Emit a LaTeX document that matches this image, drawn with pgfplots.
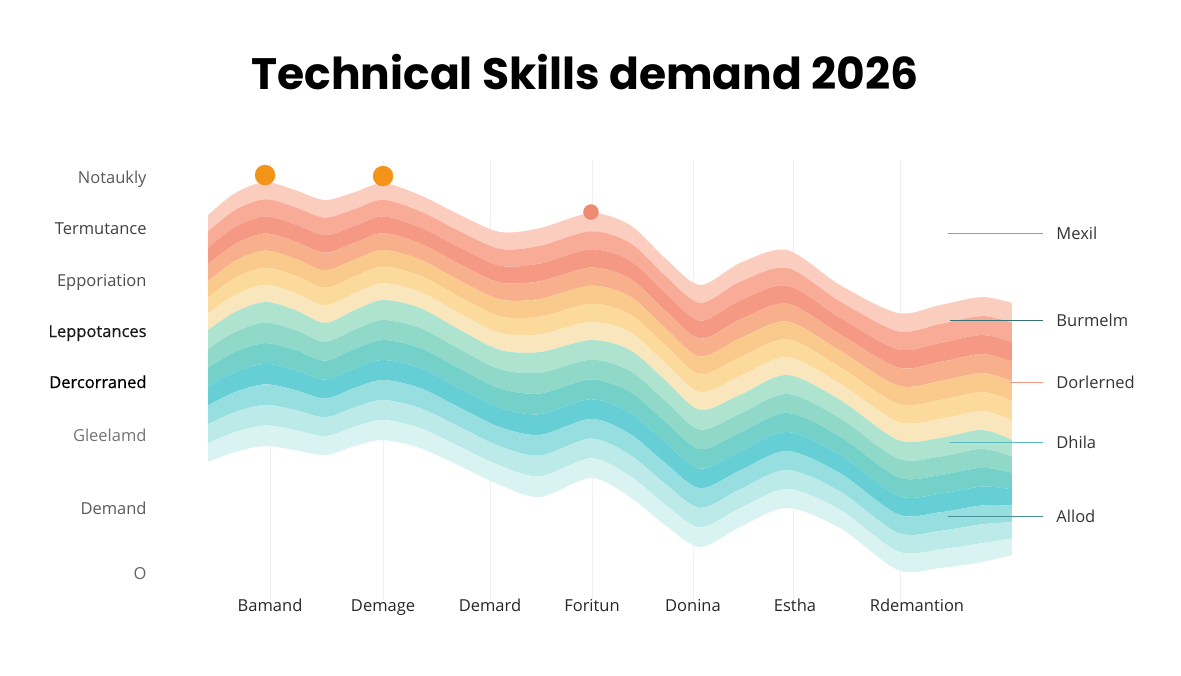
\documentclass[border=0pt]{standalone}
\usepackage{pgfplots}
\pgfplotsset{compat=1.18}
\usepackage{pgfplotstable}
\usepackage{fontspec}
\setmainfont{Open Sans}
\newfontfamily\titlefont{Poppins}
\newfontfamily\medfont[FakeBold=0.5]{Open Sans}

% band colours, bottom to top
\definecolor{c1}{HTML}{D8F3F1}
\definecolor{c2}{HTML}{BBEAE8}
\definecolor{c3}{HTML}{96DEE0}
\definecolor{c4}{HTML}{66CED5}
\definecolor{c5}{HTML}{74D1CA}
\definecolor{c6}{HTML}{90D9C9}
\definecolor{c7}{HTML}{AEE3D0}
\definecolor{w1}{HTML}{F9E6BD}
\definecolor{w2}{HTML}{FBDA9C}
\definecolor{w3}{HTML}{FAC98C}
\definecolor{w4}{HTML}{F8B08C}
\definecolor{w5}{HTML}{F59884}
\definecolor{w6}{HTML}{F8AC97}
\definecolor{w7}{HTML}{FACDBF}
\definecolor{dotorange}{HTML}{F39419}
\definecolor{dotsalmon}{HTML}{EC8A72}

% x, baseline, thickness of each cool band, thickness of each warm band
\pgfplotstableread{
x     base  c      w
208   213   18.86  16.43
235   223   20.00  17.00
265   229   20.57  17.14
295   225   20.00  17.14
325   220   18.86  17.57
355   229   19.43  16.86
383   235   20.00  16.71
420   227   20.00  16.14
460   209   19.43  16.43
500   190   19.29  16.86
540   178   20.71  17.71
591   197   19.71  18.14
630   178   21.00  17.86
665   150   20.71  17.43
700   128   19.57  17.86
740   148   18.86  18.86
787   167   19.00  17.86
840   147   18.29  16.43
898   105   18.57  18.14
940   107   18.57  19.00
982   113   18.86  19.00
1012  120   16.43  19.57
}\stream

\begin{document}
\begin{tikzpicture}
\pgfplotsset{canvas/.style={width=1181pt,height=675pt,scale only axis,
  xmin=0,xmax=1181,ymin=0,ymax=675,clip=false}}

% faint vertical guides behind the stream
\begin{axis}[canvas, hide axis]
  \addplot[black!6, line width=0.8pt] coordinates {(270,75) (270,515)};
  \addplot[black!6, line width=0.8pt] coordinates {(383,75) (383,515)};
  \addplot[black!6, line width=0.8pt] coordinates {(490,75) (490,515)};
  \addplot[black!6, line width=0.8pt] coordinates {(592,75) (592,515)};
  \addplot[black!6, line width=0.8pt] coordinates {(693,75) (693,515)};
  \addplot[black!6, line width=0.8pt] coordinates {(793,75) (793,515)};
  \addplot[black!6, line width=0.8pt] coordinates {(900,75) (900,515)};
\end{axis}

% the stream
\begin{axis}[canvas, hide axis, stack plots=y]
  \addplot[draw=none] table[y=base]{\stream};
  \addplot[fill=c1,draw=none,smooth] table[y=c]{\stream} \closedcycle;
  \addplot[fill=c2,draw=none,smooth] table[y=c]{\stream} \closedcycle;
  \addplot[fill=c3,draw=none,smooth] table[y=c]{\stream} \closedcycle;
  \addplot[fill=c4,draw=none,smooth] table[y=c]{\stream} \closedcycle;
  \addplot[fill=c5,draw=none,smooth] table[y=c]{\stream} \closedcycle;
  \addplot[fill=c6,draw=none,smooth] table[y=c]{\stream} \closedcycle;
  \addplot[fill=c7,draw=none,smooth] table[y=c]{\stream} \closedcycle;
  \addplot[fill=w1,draw=none,smooth] table[y=w]{\stream} \closedcycle;
  \addplot[fill=w2,draw=none,smooth] table[y=w]{\stream} \closedcycle;
  \addplot[fill=w3,draw=none,smooth] table[y=w]{\stream} \closedcycle;
  \addplot[fill=w4,draw=none,smooth] table[y=w]{\stream} \closedcycle;
  \addplot[fill=w5,draw=none,smooth] table[y=w]{\stream} \closedcycle;
  \addplot[fill=w6,draw=none,smooth] table[y=w]{\stream} \closedcycle;
  \addplot[fill=w7,draw=none,smooth] table[y=w]{\stream} \closedcycle;
\end{axis}

% labels, markers and callouts
\begin{axis}[canvas,
  axis line style={draw=none}, major tick length=0pt,
  xtick={270,383,490,592,693,795,917},
  xticklabels={Bamand,Demage,Demard,Foritun,Donina,Estha,Rdemantion},
  xticklabel style={font=\fontsize{16.5}{19}\selectfont, text=black!85, anchor=base, yshift=63pt},
  ytick={102,167,240,293,344,395,447,498},
  yticklabels={{\color{black!60}O},{\color{black!65}Demand},{\color{black!55}Gleelamd},
    {\medfont\color{black}Dercorraned},{\medfont\color{black!90}Leppotances},
    {\color{black!70}Epporiation},{\color{black!75}Termutance},{\color{black!65}Notaukly}},
  yticklabel style={font=\fontsize{16.5}{19}\selectfont, anchor=base east, xshift=150pt, yshift=-6pt},
]
  \addplot[only marks, mark=*, mark size=10pt, color=dotorange] coordinates {(265,500) (383,499)};
  \addplot[only marks, mark=*, mark size=7.5pt, color=dotsalmon] coordinates {(591,463)};

  \addplot[color=black!40, line width=0.9pt] coordinates {(948,442) (1043,442)};
  \addplot[color=black!45!c4, line width=0.9pt] coordinates {(950,355) (1043,355)};
  \addplot[color=w5, line width=0.9pt] coordinates {(1010,293) (1043,293)};
  \addplot[color=c4!90!black, line width=0.9pt] coordinates {(950,233) (1043,233)};
  \addplot[color=black!30!c4, line width=0.9pt] coordinates {(948,159) (1043,159)};

  \node[anchor=base west, font=\fontsize{16.5}{19}\selectfont, text=black!80] at (axis cs:1053,436) {Mexil};
  \node[anchor=base west, font=\fontsize{16.5}{19}\selectfont, text=black!80] at (axis cs:1053,349) {Burmelm};
  \node[anchor=base west, font=\fontsize{16.5}{19}\selectfont, text=black!80] at (axis cs:1053,287) {Dorlerned};
  \node[anchor=base west, font=\fontsize{16.5}{19}\selectfont, text=black!80] at (axis cs:1053,227) {Dhila};
  \node[anchor=base west, font=\fontsize{16.5}{19}\selectfont, text=black!80] at (axis cs:1053,153) {Allod};

  \node[font=\titlefont\bfseries\fontsize{44}{52}\selectfont, text=black] at (axis cs:585,603) {Technical Skills demand 2026};
\end{axis}
\end{tikzpicture}
\end{document}
